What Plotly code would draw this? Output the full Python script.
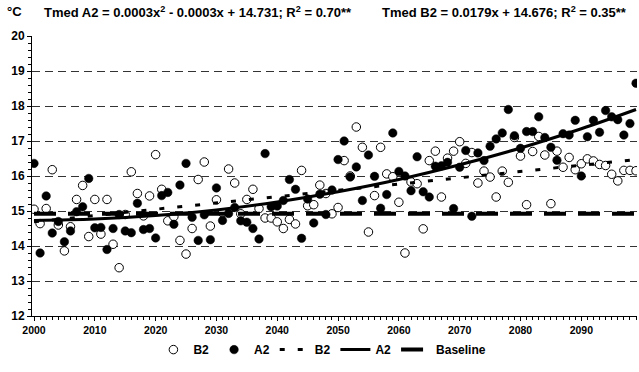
import plotly.graph_objects as go

years = list(range(2000, 2100))

b2_values = [
    15.05, 14.64, 15.07, 16.18, 14.60, 13.86, 14.55, 15.33, 15.73, 14.27,
    15.33, 14.34, 15.33, 14.05, 13.38, 14.90, 16.12, 15.50, 14.86, 15.43,
    16.61, 15.62, 14.72, 14.84, 14.16, 13.77, 14.50, 15.90, 16.40, 14.57,
    15.32, 14.95, 16.20, 15.80, 14.92, 15.33, 15.62, 15.07, 14.80, 14.80,
    14.69, 14.50, 14.76, 14.63, 16.16, 15.15, 15.18, 15.74, 15.50, 14.92,
    15.10, 16.44, 16.00, 17.40, 16.82, 14.40, 15.44, 16.82, 16.06, 15.98,
    15.25, 13.80, 15.83, 15.78, 14.49, 16.44, 16.71, 15.40, 16.51, 16.71,
    16.98, 16.36, 16.67, 15.80, 16.14, 15.97, 15.40, 16.14, 15.82, 17.10,
    16.57, 15.18, 16.70, 17.13, 16.60, 15.21, 16.71, 16.25, 16.53, 16.18,
    16.35, 16.49, 16.43, 16.33, 16.30, 16.05, 15.86, 16.16, 16.16, 16.15,
]

a2_values = [
    16.36, 13.80, 15.43, 14.37, 14.70, 14.12, 14.43, 14.98, 15.12, 15.93,
    14.52, 14.53, 13.90, 14.50, 14.90, 14.43, 14.38, 15.22, 14.47, 14.50,
    14.23, 15.44, 15.53, 14.62, 15.74, 16.36, 14.82, 14.16, 14.89, 14.18,
    15.66, 14.73, 14.93, 15.10, 14.72, 14.68, 14.50, 14.20, 16.64, 15.12,
    15.14, 15.30, 15.90, 15.62, 14.22, 15.34, 14.66, 15.48, 14.90, 15.60,
    16.47, 17.00, 15.97, 16.26, 15.30, 16.60, 15.99, 15.08, 15.47, 17.23,
    16.13, 16.00, 15.58, 16.55, 15.55, 15.40, 16.28, 16.29, 16.39, 15.07,
    16.25, 16.73, 14.85, 16.66, 16.44, 16.85, 17.06, 17.23, 17.90, 17.15,
    16.79, 17.27, 17.27, 17.69, 17.10, 16.82, 16.45, 17.21, 17.17, 17.59,
    16.00, 17.12, 17.59, 17.25, 17.87, 17.69, 17.61, 17.17, 17.50, 18.65,
]

a2_trend_years = [2000, 2010, 2020, 2030, 2040, 2050, 2060, 2070, 2080, 2090, 2099]
a2_trend_values = [14.73, 14.77, 14.87, 15.03, 15.26, 15.55, 15.90, 16.32, 16.80, 17.35, 17.90]

b2_trend_years = [2000, 2099]
b2_trend_values = [14.69, 16.47]

baseline_years = [2000, 2099]
baseline_values = [14.92, 14.92]

x_ticks = [2000, 2010, 2020, 2030, 2040, 2050, 2060, 2070, 2080, 2090]
y_ticks = [12, 13, 14, 15, 16, 17, 18, 19, 20]

title_unit = "°C"
title_a2 = "Tmed A2 = 0.0003x<sup>2</sup> - 0.0003x + 14.731; R<sup>2</sup> = 0.70**"
title_b2 = "Tmed B2 = 0.0179x + 14.676; R<sup>2</sup> = 0.35**"

FONT = "Liberation Sans, Arial, sans-serif"

fig = go.Figure()
fig.add_trace(go.Scatter(
    x=years, y=b2_values, mode="markers", name="<b>B2</b>",
    marker=dict(symbol="circle", size=8.5, color="white", line=dict(color="black", width=1)),
))
fig.add_trace(go.Scatter(
    x=years, y=a2_values, mode="markers", name="<b>A2</b>",
    marker=dict(symbol="circle", size=8.5, color="black", line=dict(color="black", width=0.5)),
))
fig.add_trace(go.Scatter(
    x=b2_trend_years, y=b2_trend_values, mode="lines", name="<b>B2</b>",
    line=dict(color="black", width=3, dash="5px,13px"),
))
fig.add_trace(go.Scatter(
    x=a2_trend_years, y=a2_trend_values, mode="lines", name="<b>A2</b>",
    line=dict(color="black", width=3, shape="spline"),
))
fig.add_trace(go.Scatter(
    x=baseline_years, y=baseline_values, mode="lines", name="<b>Baseline</b>",
    line=dict(color="black", width=4, dash="22px,12px"),
))

fig.update_layout(
    width=639, height=372,
    margin=dict(l=32, r=2, t=36, b=56),
    paper_bgcolor="white", plot_bgcolor="white",
    font=dict(family=FONT, color="black", size=12),
    showlegend=True,
    legend=dict(
        orientation="h", x=0.48, xanchor="center", y=-0.12, yanchor="middle",
        font=dict(family=FONT, size=12, color="black"),
        itemwidth=30, tracegroupgap=0, bgcolor="rgba(0,0,0,0)",
    ),
    xaxis=dict(
        range=[1999.67, 2099.16], tickvals=x_ticks,
        ticktext=["<b>%d</b>" % v for v in x_ticks],
        showgrid=False, zeroline=False,
        showline=True, linecolor="black", linewidth=1,
        ticks="outside", ticklen=4, tickcolor="black",
        minor=dict(dtick=1, ticks="outside", ticklen=3, tickcolor="black", showgrid=False),
        tickfont=dict(family=FONT, size=10.5, color="black"),
    ),
    yaxis=dict(
        range=[12, 20], tickvals=y_ticks,
        ticktext=["<b>%d</b>" % v for v in y_ticks],
        showgrid=True, gridcolor="#333333", gridwidth=1, griddash="8px,5px",
        zeroline=False,
        showline=True, linecolor="black", linewidth=1,
        ticks="outside", ticklen=4, tickcolor="black",
        minor=dict(dtick=0.2, ticks="outside", ticklen=3, tickcolor="black", showgrid=False),
        tickfont=dict(family=FONT, size=12, color="black"),
    ),
)

fig.add_annotation(text="<b>%s</b>" % title_unit, xref="paper", yref="paper",
                   x=-0.045, y=1.086, xanchor="left", yanchor="middle", showarrow=False,
                   font=dict(family=FONT, size=13, color="black"))
fig.add_annotation(text="<b>%s</b>" % title_a2, xref="paper", yref="paper",
                   x=0.016, y=1.086, xanchor="left", yanchor="middle", showarrow=False,
                   font=dict(family=FONT, size=13, color="black"))
fig.add_annotation(text="<b>%s</b>" % title_b2, xref="paper", yref="paper",
                   x=0.575, y=1.086, xanchor="left", yanchor="middle", showarrow=False,
                   font=dict(family=FONT, size=13, color="black"))

fig.write_html("out.html")
